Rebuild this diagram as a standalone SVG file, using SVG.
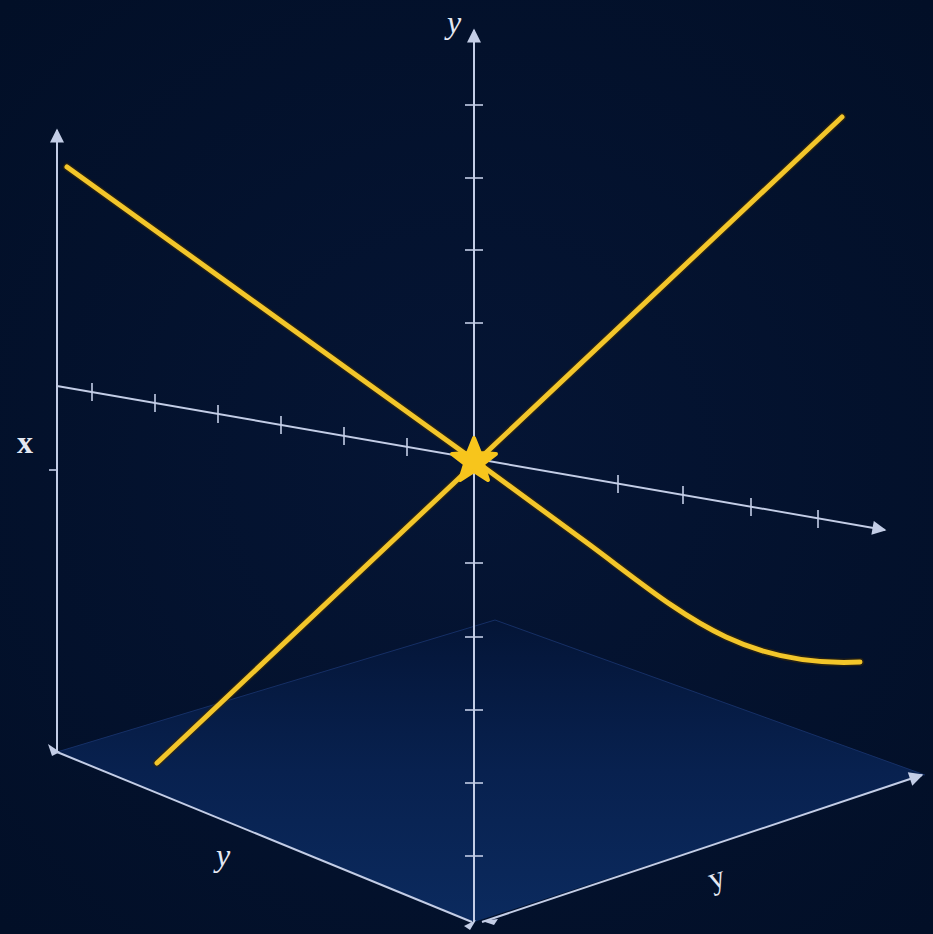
<svg xmlns="http://www.w3.org/2000/svg" width="933" height="934" viewBox="0 0 933 934">
<defs>
<style>
.ax{stroke:#c3cde6;stroke-width:2;fill:none}
.tk{stroke:#c3cde6;stroke-width:1.6;fill:none}
.yl{stroke:#f3c62a;stroke-width:5;fill:none;stroke-linecap:round;stroke-linejoin:round}
.yo{stroke:#3a2a06;stroke-width:8;fill:none;stroke-linecap:round;stroke-linejoin:round;opacity:0.6}
.lbl{font-family:"Liberation Serif","DejaVu Serif",serif;fill:#e4e8f2;font-size:32px}
</style>
<marker id="arrB" viewBox="0 0 10 10" refX="9" refY="5" markerWidth="16" markerHeight="14" orient="auto" markerUnits="userSpaceOnUse">
<path d="M0,0 L10,5 L0,10 Z" fill="#c3cde6"/>
</marker>
<linearGradient id="floor" x1="0" y1="0" x2="0" y2="1">
<stop offset="0" stop-color="#041537"/>
<stop offset="0.5" stop-color="#08214f"/>
<stop offset="1" stop-color="#0b2a5e"/>
</linearGradient>
<radialGradient id="bg" cx="0.5" cy="0.5" r="0.7">
<stop offset="0" stop-color="#051535"/>
<stop offset="1" stop-color="#020f27"/>
</radialGradient>
</defs>
<rect width="933" height="934" fill="url(#bg)"/>
<g id="floor-plane">
<path d="M57,752 L495,620 L925,775 L474,922 Z" fill="url(#floor)"/>
<path d="M57,752 L495,620 L925,775" stroke="#1a3670" stroke-width="1" fill="none" opacity="0.8"/>
</g>
<g id="axes">
<line class="ax" x1="474" y1="922" x2="474" y2="30" marker-end="url(#arrB)"/>
<g class="tk">
<line x1="465" y1="105" x2="483" y2="105"/>
<line x1="465" y1="178" x2="483" y2="178"/>
<line x1="465" y1="250" x2="483" y2="250"/>
<line x1="465" y1="323" x2="483" y2="323"/>
<line x1="465" y1="563" x2="483" y2="563"/>
<line x1="465" y1="637" x2="483" y2="637"/>
<line x1="465" y1="710" x2="483" y2="710"/>
<line x1="465" y1="783" x2="483" y2="783"/>
<line x1="465" y1="856" x2="483" y2="856"/>
</g>
<line class="ax" x1="57" y1="752" x2="57" y2="130" marker-end="url(#arrB)"/>
<line class="tk" x1="49" y1="470" x2="57" y2="470"/>
<line class="ax" x1="57" y1="386" x2="885" y2="530" marker-end="url(#arrB)"/>
<g class="tk">
<line x1="92" y1="383" x2="92" y2="401"/>
<line x1="155" y1="394" x2="155" y2="412"/>
<line x1="218" y1="405" x2="218" y2="423"/>
<line x1="281" y1="416" x2="281" y2="434"/>
<line x1="344" y1="427" x2="344" y2="445"/>
<line x1="407" y1="438" x2="407" y2="456"/>
<line x1="618" y1="475" x2="618" y2="493"/>
<line x1="683" y1="486" x2="683" y2="504"/>
<line x1="751" y1="498" x2="751" y2="516"/>
<line x1="818" y1="510" x2="818" y2="528"/>
</g>
<line class="ax" x1="57" y1="752" x2="472" y2="922"/>
<line class="ax" x1="482" y1="922" x2="922" y2="775" marker-end="url(#arrB)"/>
<path d="M48,744 L60,752 L52,756 Z" fill="#c3cde6"/>
<path d="M464,926 L476,920 L470,930 Z" fill="#c3cde6"/>
<path d="M482,921 L498,919 L494,925 Z" fill="#c3cde6"/>
</g>
<g id="labels">
<text class="lbl" x="447" y="33" font-style="italic">y</text>
<text class="lbl" x="17" y="453" font-weight="bold">x</text>
<text class="lbl" x="216" y="866" font-style="italic">y</text>
<text class="lbl" x="0" y="0" transform="translate(712,890) rotate(-18)">y</text>
</g>
<g id="curves">
<path class="yo" d="M67,167 L474,460 L590,545 C680,612 740,668 860,662"/>
<path class="yl" d="M67,167 L474,460 L590,545 C680,612 740,668 860,662"/>
<path class="yo" d="M157,763 L842,117"/>
<path class="yl" d="M157,763 L842,117"/>
</g>
<g id="star">
<path d="M474,438 L480,453 L496,454 L483,464 L488,480 L474,471 L460,480 L465,464 L452,454 L468,453 Z" fill="#f7c51c" stroke="#f7c51c" stroke-width="4" stroke-linejoin="round"/>
</g>
</svg>
